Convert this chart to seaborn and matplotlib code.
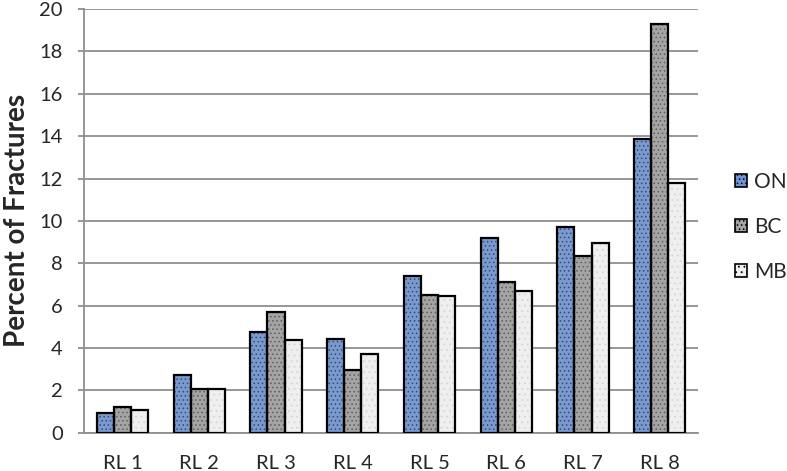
import numpy as np
import pandas as pd
import matplotlib
matplotlib.use("Agg")
import matplotlib.pyplot as plt
from matplotlib.patches import Patch, Rectangle
import seaborn as sns

# values
categories = ["RL 1", "RL 2", "RL 3", "RL 4", "RL 5", "RL 6", "RL 7", "RL 8"]
on_vals = [0.96, 2.74, 4.74, 4.41, 7.40, 9.20, 9.73, 13.86]
bc_vals = [1.20, 2.08, 5.72, 2.95, 6.50, 7.13, 8.35, 19.29]
mb_vals = [1.09, 2.08, 4.36, 3.73, 6.44, 6.68, 8.96, 11.80]
series = ["ON", "BC", "MB"]

face_colors = {"ON": "#6f95d8", "BC": "#a4a4a4", "MB": "#efefef"}
hatch_colors = {"ON": "#2b4c8c", "BC": "#5e5e5e", "MB": "#d6d6d6"}
hatches = {"ON": "....", "BC": "....", "MB": "..."}

df = pd.DataFrame({
    "cat": categories * 3,
    "series": ["ON"] * 8 + ["BC"] * 8 + ["MB"] * 8,
    "val": on_vals + bc_vals + mb_vals,
})

sns.set_style("white")
plt.rcParams["font.family"] = ["Lato", "DejaVu Sans"]
plt.rcParams["hatch.linewidth"] = 0.6

fig = plt.figure(figsize=(7.87, 4.71), dpi=100)
ax = fig.add_axes([0.107, 0.081, 0.78, 0.9])

sns.barplot(data=df, x="cat", y="val", hue="series", hue_order=series,
            palette=face_colors, width=0.67, gap=0, errorbar=None,
            legend=False, ax=ax, zorder=3)

# texture + black outline for every bar
for s, cont in zip(series, ax.containers):
    for p in cont:
        p.set_edgecolor(hatch_colors[s])
        p.set_hatch(hatches[s])
        p.set_linewidth(0)
        ax.add_patch(Rectangle(p.get_xy(), p.get_width(), p.get_height(),
                               fill=False, edgecolor="black", lw=1.6, zorder=4))

ax.set_ylim(0, 20)
ax.set_xlim(-0.5, len(categories) - 0.5)
ax.set_yticks(np.arange(0, 21, 2))
ax.yaxis.grid(True, color="#8f8f8f", lw=1.3, zorder=0)
ax.set_axisbelow(True)

for side in ["top", "right"]:
    ax.spines[side].set_visible(False)
for side in ["left", "bottom"]:
    ax.spines[side].set_color("#8f8f8f")
    ax.spines[side].set_linewidth(1.3)

ax.set_xticks(np.arange(-0.5, len(categories)), minor=True)
ax.tick_params(axis="x", which="major", length=0, pad=16, labelsize=14.5)
ax.tick_params(axis="x", which="minor", length=7, width=1.3, color="#8f8f8f", direction="out")
ax.tick_params(axis="y", length=4.5, width=1.3, color="#8f8f8f", labelsize=14.5, pad=11)
ax.tick_params(axis="y", left=True)

ax.set_xlabel("")
ax.set_ylabel("Percent of Fractures", fontsize=20, fontweight="bold")
ax.yaxis.set_label_coords(-0.088, 0.5)

handles = [Patch(facecolor=face_colors[s], edgecolor="black", lw=1.2) for s in series]
for h, s in zip(handles, series):
    h.set_hatch(hatches[s])
fig.legend(handles, series, loc="center left", bbox_to_anchor=(0.934, 0.518),
           frameon=False, fontsize=15, handlelength=0.55, handleheight=0.55,
           handletextpad=0.35, labelspacing=1.2, borderpad=0, borderaxespad=0)

fig.savefig("out.png", dpi=100)
